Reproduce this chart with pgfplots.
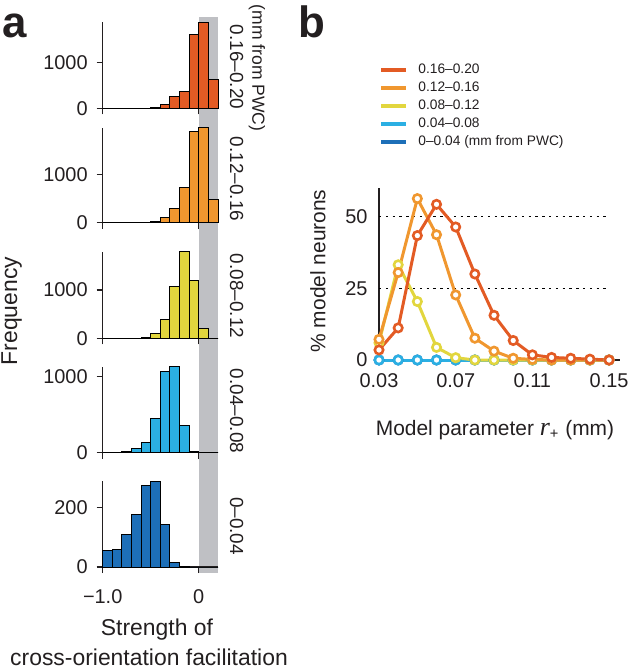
\documentclass[border=0pt]{standalone}
\usepackage{fontspec}
\setmainfont{Liberation Sans}
\newfontfamily\seriffont{Liberation Serif}
\usepackage{pgfplots}
\pgfplotsset{compat=1.18}

\definecolor{axisgray}{HTML}{231F20}
\definecolor{bandgray}{HTML}{BFC0C4}
\definecolor{cRed}{HTML}{E35B24}
\definecolor{cOrange}{HTML}{F0972F}
\definecolor{cYellow}{HTML}{E2D63E}
\definecolor{cCyan}{HTML}{2BAFE3}
\definecolor{cBlue}{HTML}{1D6FB8}

\pgfplotsset{
  hist/.style={
    scale only axis, width=57.65bp, anchor=south west,
    xmin=-1, xmax=0.2, ymin=0,
    axis x line*=bottom, axis y line*=left,
    axis line style={-, line width=0.7bp, draw=axisgray},
    tick align=outside, major tick length=3bp,
    tick style={line width=0.7bp, draw=axisgray},
    xtick={-1,0}, xticklabels={},
    scaled ticks=false, clip=false,
    tick label style={font=\fontsize{10}{12}\selectfont, text=axisgray},
    yticklabel style={xshift=-1bp},
    xticklabel style={yshift=-5bp},
  },
  bars/.style={ybar interval, draw=black, line width=0.5bp, fill=#1},
  ser/.style={color=#1, line width=1.5bp, mark=*, mark size=2.1bp,
    mark options={fill=white, line width=1.3bp}},
}

\begin{document}
\begin{tikzpicture}
\useasboundingbox (0,0) rectangle (315bp,-333.5bp);

% grey band behind the histograms
\fill[bandgray] (99.35bp,-8.35bp) rectangle (109bp,-286.35bp);

% ---- panel a
\begin{axis}[hist, at={(51.35bp,-54.15bp)}, height=43bp, ymax=1883,
  ytick={0,1000}, yticklabels={0,1000}]
\addplot[bars=cRed] coordinates {(-1,0) (-0.9,0) (-0.8,0) (-0.7,0) (-0.6,3)
  (-0.5,15) (-0.4,73) (-0.3,263) (-0.2,365) (-0.1,1613) (0,1883) (0.1,620) (0.2,620)};
\end{axis}

\begin{axis}[hist, at={(51.35bp,-111.35bp)}, height=47.5bp, ymax=1966,
  ytick={0,1000}, yticklabels={0,1000}]
\addplot[bars=cOrange] coordinates {(-1,0) (-0.9,0) (-0.8,0) (-0.7,0) (-0.6,3)
  (-0.5,20) (-0.4,110) (-0.3,297) (-0.2,724) (-0.1,1897) (0,1966) (0.1,490) (0.2,490)};
\end{axis}

\begin{axis}[hist, at={(51.35bp,-169.15bp)}, height=43.3bp, ymax=1793,
  ytick={0,1000}, yticklabels={0,1000}]
\addplot[bars=cYellow] coordinates {(-1,0) (-0.9,0) (-0.8,0) (-0.7,5) (-0.6,20)
  (-0.5,103) (-0.4,380) (-0.3,1069) (-0.2,1793) (-0.1,1193) (0,207) (0.1,0) (0.2,0)};
\end{axis}

\begin{axis}[hist, at={(51.35bp,-226.35bp)}, height=43bp, ymax=1132,
  ytick={0,1000}, yticklabels={0,1000}]
\addplot[bars=cCyan] coordinates {(-1,0) (-0.9,5) (-0.8,10) (-0.7,57) (-0.6,136)
  (-0.5,447) (-0.4,1066) (-0.3,1132) (-0.2,364) (-0.1,13) (0,0) (0.1,0) (0.2,0)};
\end{axis}

\begin{axis}[hist, at={(51.35bp,-283.5bp)}, height=42.9bp, ymax=289,
  ytick={0,200}, yticklabels={0,200}, xticklabels={−1.0,0}]
\addplot[bars=cBlue] coordinates {(-1,54) (-0.9,60) (-0.8,111) (-0.7,178) (-0.6,275)
  (-0.5,289) (-0.4,144) (-0.3,16) (-0.2,3) (-0.1,0) (0,0) (0.1,0) (0.2,0)};
\end{axis}

\begin{scope}[every node/.style={inner sep=0pt, text=axisgray}]
\node[font=\fontsize{22}{22}\selectfont\bfseries, anchor=base west] at (1bp,-18.5bp) {a};
\node[font=\fontsize{22}{22}\selectfont\bfseries, anchor=base west] at (149bp,-18.5bp) {b};
\node[font=\fontsize{11.5}{12}\selectfont, rotate=90, anchor=base] at (8.5bp,-155.5bp) {Frequency};
\node[font=\fontsize{11.5}{12}\selectfont, anchor=base] at (78.5bp,-317.5bp) {Strength of};
\node[font=\fontsize{11.5}{12}\selectfont, anchor=base] at (74.5bp,-332.5bp) {cross-orientation facilitation};
\begin{scope}[every node/.append style={font=\fontsize{9.5}{10}\selectfont, rotate=-90}]
\node at (118.35bp,-33.5bp) {0.16–0.20};
\node[font=\fontsize{8.8}{10}\selectfont] at (128.5bp,-34bp) {(mm from PWC)};
\node at (118.35bp,-89.5bp) {0.12–0.16};
\node at (118.35bp,-148bp) {0.08–0.12};
\node at (118.35bp,-205.5bp) {0.04–0.08};
\node at (118.35bp,-263bp) {0–0.04};
\end{scope}
\node[font=\fontsize{10.5}{12}\selectfont, rotate=90] at (159bp,-135.5bp) {\% model neurons};
\node[font=\fontsize{10.5}{12}\selectfont, anchor=base] at (247.5bp,-217.5bp)
  {Model parameter {\seriffont\itshape\fontsize{13}{13}\selectfont r}\textsubscript{+} (mm)};
\end{scope}

% ---- panel b
\begin{axis}[scale only axis, at={(189.5bp,-180bp)}, anchor=south west,
  width=120.5bp, height=86bp,
  xmin=0.03, xmax=0.1557, ymin=0, ymax=60,
  axis x line*=bottom, axis y line*=left,
  axis line style={-, line width=0.7bp, draw=axisgray},
  major tick length=0pt, clip=false, scaled ticks=false,
  xtick={0.03,0.07,0.11,0.15}, xticklabels={0.03,0.07,0.11,0.15},
  ytick={0,25,50}, yticklabels={0,25,50},
  tick label style={font=\fontsize{10}{12}\selectfont, text=axisgray},
  xticklabel style={yshift=-3.5bp}, yticklabel style={xshift=-2.2bp},
  reverse legend,
  legend image code/.code={\draw[#1, line width=2bp] (0bp,0bp) -- (12.5bp,0bp);},
  legend style={at={(0,1)}, anchor=north west, yshift=62.25bp, draw=none, fill=none,
    inner sep=0pt, font=\fontsize{6.9}{8}\selectfont, row sep=2.5bp, column sep=5bp,
    nodes={inner sep=0pt, text height=5bp, text depth=1.5bp, text=axisgray}},
  legend cell align=left,
]
\addplot[forget plot, black, line width=0.6bp, dash pattern=on 1.2bp off 2.2bp]
  coordinates {(0.03,50) (0.15,50)};
\addplot[forget plot, black, line width=0.6bp, dash pattern=on 1.2bp off 2.2bp]
  coordinates {(0.03,25) (0.15,25)};
\addplot[ser=cBlue] coordinates {(0.03,0) (0.04,0) (0.05,0) (0.06,0) (0.07,0) (0.08,0)
  (0.09,0) (0.10,0) (0.11,0) (0.12,0) (0.13,0) (0.14,0) (0.15,0)};
\addlegendentry{0–0.04 (mm from PWC)}
\addplot[ser=cCyan] coordinates {(0.03,0) (0.04,0) (0.05,0) (0.06,0) (0.07,0) (0.08,0)
  (0.09,0) (0.10,0) (0.11,0) (0.12,0) (0.13,0) (0.14,0) (0.15,0)};
\addlegendentry{0.04–0.08}
\addplot[ser=cYellow] coordinates {(0.03,6) (0.04,33.2) (0.05,20.4) (0.06,4.4) (0.07,0.8)
  (0.08,0) (0.09,0) (0.10,0) (0.11,0) (0.12,0) (0.13,0) (0.14,0) (0.15,0)};
\addlegendentry{0.08–0.12}
\addplot[ser=cOrange] coordinates {(0.03,7.2) (0.04,30.5) (0.05,56.3) (0.06,43.7) (0.07,22.7)
  (0.08,7.6) (0.09,3.1) (0.10,0.6) (0.11,0.2) (0.12,0) (0.13,0) (0.14,0) (0.15,0)};
\addlegendentry{0.12–0.16}
\addplot[ser=cRed] coordinates {(0.03,3.5) (0.04,11.2) (0.05,43.4) (0.06,54.3) (0.07,46.4)
  (0.08,30) (0.09,15.6) (0.10,6.8) (0.11,1.8) (0.12,0.9) (0.13,0.6) (0.14,0.3) (0.15,0)};
\addlegendentry{0.16–0.20}
\end{axis}
\end{tikzpicture}
\end{document}
